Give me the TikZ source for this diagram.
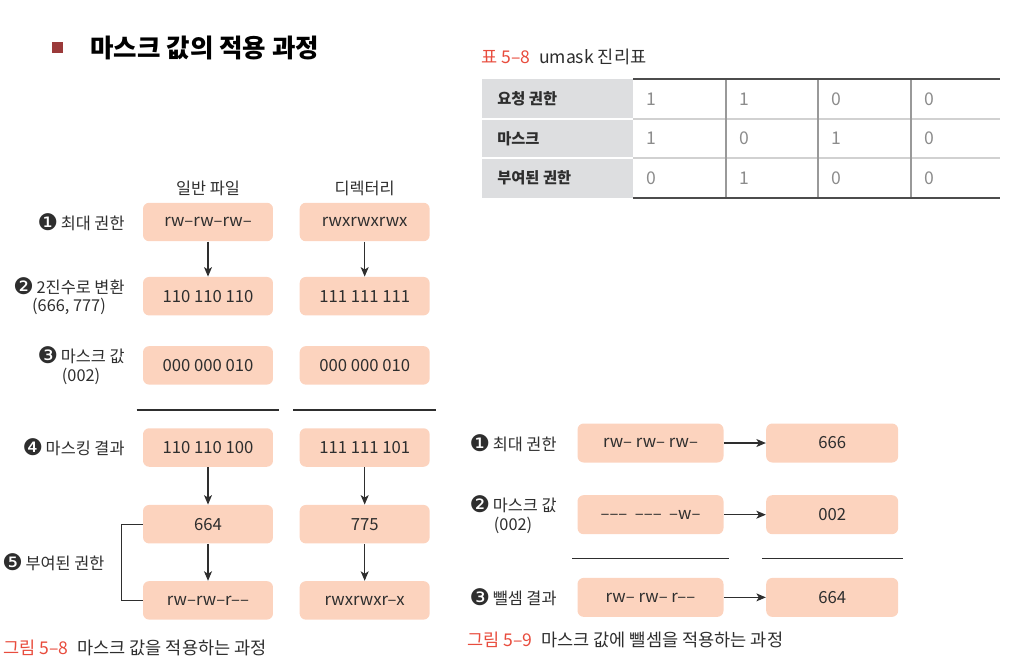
\documentclass[tikz,border=0pt]{standalone}
\usepackage{fontspec}
\setmainfont{Noto Sans CJK KR}
\newfontfamily\dingfont[Scale=1.4]{DejaVu Sans}
\usetikzlibrary{arrows.meta,positioning}

\definecolor{peach}{HTML}{FCD3BE}
\definecolor{txt}{HTML}{2E2E2E}
\definecolor{capred}{HTML}{E84C3D}
\definecolor{sqred}{HTML}{9B3A3A}
\definecolor{tgray}{HTML}{DDDEE0}

\newcommand{\cnum}[1]{\raisebox{-0.4pt}{\dingfont #1}\,}

\begin{document}
\begin{tikzpicture}[
    x=0.02cm, y=-0.02cm,
    box/.style={rectangle, rounded corners=3.5pt, fill=peach, text=txt, minimum width=2.6cm, minimum height=0.77cm, font=\fontsize{9.5}{11}\selectfont},
    wbox/.style={box, minimum width=2.92cm, minimum height=0.78cm},
    obox/.style={box, minimum width=2.64cm, minimum height=0.78cm},
    lbl/.style={text=txt, align=center, inner sep=1pt, font=\fontsize{9.3}{10.5}\selectfont},
    thead/.style={anchor=west, text=txt, inner sep=0pt, font=\fontsize{8.7}{10}\selectfont\bfseries},
    tval/.style={anchor=west, text=black!45, inner sep=0pt, font=\fontsize{10}{11}\selectfont},
    capt/.style={anchor=west, text=txt, font=\fontsize{10}{11}\selectfont},
    arr/.style={-{Stealth[length=1.9mm, width=1.6mm, inset=0.5mm]}, line width=0.6pt, draw=txt},
    sep/.style={line width=0.6pt, draw=txt}
]
    \useasboundingbox (0,0) rectangle (1026,658);

    % title
    \node[fill=sqred, minimum size=0.22cm, inner sep=0pt] (bullet) at (57.5,48) {};
    \node[right=0.5cm of bullet, inner sep=1pt, font=\fontsize{14.5}{16}\selectfont\bfseries] (title) {마스크 값의 적용 과정};

    % table 5-8
    \node[capt, inner sep=0pt] (tcap) at (481,57) {\textcolor{capred}{표 5–8}\enspace umask 진리표};
    \fill[tgray] (482,79) rectangle (633,198);
    \draw[white, line width=1.2pt] (482,119) -- (633,119) (482,158) -- (633,158);
    \draw[black!18, line width=0.6pt] (633,119) -- (1000,119) (633,158) -- (1000,158);
    \draw[black!40, line width=0.7pt] (726,79) -- (726,198) (818,79) -- (818,198) (911,79) -- (911,198);
    \draw[black!70, line width=0.8pt] (633,79) -- (1000,79) (633,198) -- (1000,198);
    \node[thead] (req) at (497,99) {요청 권한};
    \node[thead] (msk) at (497,138.5) {마스크};
    \node[thead] (res) at (497,178) {부여된 권한};
    \foreach \vals/\y [count=\r] in {{1,1,0,0}/99, {1,0,1,0}/138.5, {0,1,0,0}/178}
        \foreach \v [count=\c] in \vals
            \node[tval] (t\r\c) at ({633+(\c-1)*92.7+13},\y) {\v};

    % figure 5-8
    \node[box] (f1) at (208,222) {rw–rw–rw–};
    \node[box, below=0.7cm of f1] (f2) {110 110 110};
    \node[box, below=0.6cm of f2] (f3) {000 000 010};
    \node[box] (f4) at (208,447.5) {110 110 100};
    \node[box, below=0.75cm of f4] (f5) {664};
    \node[box, below=0.74cm of f5] (f6) {rw–rw–r––};

    \node[box, right=0.52cm of f1] (d1) {rwxrwxrwx};
    \node[box, right=0.52cm of f2] (d2) {111 111 111};
    \node[box, right=0.52cm of f3] (d3) {000 000 010};
    \node[box, right=0.52cm of f4] (d4) {111 111 101};
    \node[box, right=0.52cm of f5] (d5) {775};
    \node[box, right=0.52cm of f6] (d6) {rwxrwxr–x};

    \node[lbl, above=0.1cm of f1] (hfile) {일반 파일};
    \node[lbl, above=0.1cm of d1] (hdir) {디렉터리};

    \node[lbl, left=0.32cm of f1] (l1) {\cnum{❶}최대 권한};
    \node[lbl, left=0.32cm of f2] (l2) {\cnum{❷}2진수로 변환\\(666, 777)};
    \node[lbl, left=0.32cm of f3] (l3) {\cnum{❸}마스크 값\\(002)};
    \node[lbl, left=0.32cm of f4] (l4) {\cnum{❹}마스킹 결과};

    \draw[arr] (f1) -- (f2);
    \draw[arr] (d1) -- (d2);
    \draw[arr] (f4) -- (f5);
    \draw[arr] (d4) -- (d5);
    \draw[arr] (f5) -- (f6);
    \draw[arr] (d5) -- (d6);

    \draw[sep] ([shift={(-6,25)}]f3.south west) -- ([shift={(6,25)}]f3.south east);
    \draw[sep] ([shift={(-6,25)}]d3.south west) -- ([shift={(6,25)}]d3.south east);

    \draw[sep] (f5.west) -- ++(-21,0) |- node[lbl, pos=0.25, left=0.3cm] (l5) {\cnum{❺}부여된 권한} (f6.west);

    \node[capt] (cap8) at (-3,648) {\textcolor{capred}{그림 5–8}\enspace 마스크 값을 적용하는 과정};

    % figure 5-9
    \node[wbox] (s1) at (650.5,443) {rw– rw– rw–};
    \node[obox, right=0.84cm of s1] (o1) {666};
    \node[wbox, below=0.64cm of s1] (s2) {––– \ ––– \ –w–};
    \node[obox, right=0.84cm of s2] (o2) {002};
    \node[wbox, below=0.86cm of s2] (s3) {rw– rw– r––};
    \node[obox, right=0.84cm of s3] (o3) {664};

    \node[lbl, left=0.37cm of s1] (m1) {\cnum{❶}최대 권한};
    \node[lbl, left=0.37cm of s2] (m2) {\cnum{❷}마스크 값\\(002)};
    \node[lbl, left=0.37cm of s3] (m3) {\cnum{❸}뺄셈 결과};

    \draw[arr] (s1) -- (o1);
    \draw[arr] (s2) -- (o2);
    \draw[arr] (s3) -- (o3);

    \draw[sep] ([shift={(-5,23.5)}]s2.south west) -- ([shift={(5,23.5)}]s2.south east);
    \draw[sep] ([shift={(-4,23.5)}]o2.south west) -- ([shift={(4,23.5)}]o2.south east);

    \node[capt] (cap9) at (461,640) {\textcolor{capred}{그림 5–9}\enspace 마스크 값에 뺄셈을 적용하는 과정};
\end{tikzpicture}
\end{document}
